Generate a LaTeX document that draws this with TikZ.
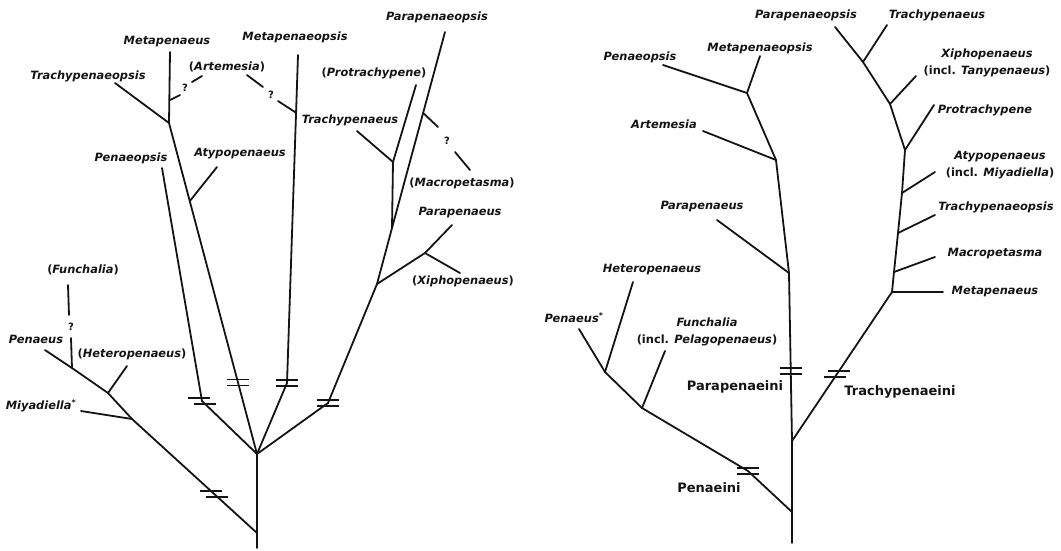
\documentclass[tikz,border=0pt]{standalone}
\usepackage{fontspec}
\setmainfont{DejaVu Sans}
\usepackage{xcolor}
\usepackage{tikz}
\usetikzlibrary{calc}
\definecolor{encre}{HTML}{141414}
\tikzset{
  branche/.style={line width=1.8pt, color=encre, line cap=round},
  trait/.style={line width=1.2pt, color=encre},
  genre/.style={font=\fontsize{11.4}{16.5}\selectfont\bfseries\itshape,
    text=encre, inner sep=0pt, align=center},
  tribu/.style={font=\fontsize{13}{15}\selectfont\bfseries, text=encre, inner sep=0pt},
  doute/.style={font=\fontsize{10}{12}\selectfont\bfseries, text=encre, inner sep=0pt},
}
\newcommand{\coupure}[2]{%
  \draw[trait] ([shift={({-1*(#2)},-3)}]#1) +(-11,0) -- +(11,0);
  \draw[trait] ([shift={(#2,3)}]#1) +(-11,0) -- +(11,0);}
\newcommand{\parens}[1]{{\upshape(}#1{\upshape)}}
\newcommand{\incl}[1]{{\upshape(incl. }#1{\upshape)}}

\begin{document}
\begin{tikzpicture}[x=1pt, y=-1pt]
    \useasboundingbox (0,0) rectangle (1061,550);

    % arbre de gauche
    \coordinate (racG) at (257,548);
    \coordinate (nPenG) at (257,533);
    \coordinate (nPolyG) at (257,454);
    \coordinate (nMiyG) at (132,419);
    \coordinate (nHetG) at (108,393);
    \coordinate (nFunG) at (72,368);
    \coordinate (hPenG) at (214,494);
    \coordinate (tPenG) at (45,350);
    \coordinate (tMiyG) at (81,411);
    \coordinate (tHetG) at (127,366);
    \coordinate (fun1) at (71,338);
    \coordinate (fun2) at (69,315);
    \coordinate (tFunG) at (68,285);

    \coordinate (bPeoG) at (202,401);
    \coordinate (tPeoG) at (162,168);

    \coordinate (nTpsG) at (169,123);
    \coordinate (hMetG) at ($(nPolyG)!0.215!(nTpsG)$);
    \coordinate (nAtyG) at ($(nPolyG)!0.764!(nTpsG)$);
    \coordinate (tAtyG) at (217,167);
    \coordinate (tTpsG) at (115,83);
    \coordinate (tMetG) at (170,52);
    \coordinate (nArtG1) at (170,100);
    \coordinate (art1) at (180,95);
    \coordinate (art2) at (192,82);
    \coordinate (tArtG1) at (202,76);
    \coordinate (tArtG2) at (247,75);
    \coordinate (art3) at (263,87);
    \coordinate (art4) at (278,101);

    \coordinate (bMpoG) at (287,383);
    \coordinate (tMpoG) at (298,55);
    \coordinate (nArtG2) at ($(bMpoG)!0.824!(tMpoG)$);

    \coordinate (bPpoG) at (328,403);
    \coordinate (nXipG) at (377,284);
    \coordinate (nPPG) at (392,228);
    \coordinate (tPpoG) at (445,32);
    \coordinate (nMacG) at ($(nPPG)!0.587!(tPpoG)$);
    \coordinate (mac1) at (438,127);
    \coordinate (mac2) at (455,152);
    \coordinate (tMacG) at (470,170);
    \coordinate (nXPG) at (425,253);
    \coordinate (tParG) at (452,225);
    \coordinate (tXipG) at (460,273);
    \coordinate (nTraG) at (393,162);
    \coordinate (tProG) at (416,85);
    \coordinate (tTraG) at (357,131);

    \draw[branche] (racG) -- (nPenG) -- (nPolyG);
    \draw[branche] (nPenG) -- (nMiyG) -- (nHetG) -- (nFunG) -- (tPenG);
    \draw[branche] (nMiyG) -- (tMiyG);
    \draw[branche] (nHetG) -- (tHetG);
    \draw[branche] (nFunG) -- (fun1);
    \draw[branche] (fun2) -- (tFunG);
    \draw[branche] (nPolyG) -- (bPeoG) -- (tPeoG);
    \draw[branche] (nPolyG) -- (nTpsG) -- (tTpsG);
    \draw[branche] (nTpsG) -- (tMetG);
    \draw[branche] (nAtyG) -- (tAtyG);
    \draw[branche] (nArtG1) -- (art1);
    \draw[branche] (art2) -- (tArtG1);
    \draw[branche] (tArtG2) -- (art3);
    \draw[branche] (art4) -- (nArtG2);
    \draw[branche] (nPolyG) -- (bMpoG) -- (tMpoG);
    \draw[branche] (nPolyG) -- (bPpoG) -- (nXipG) -- (nPPG) -- (tPpoG);
    \draw[branche] (nXipG) -- (nXPG) -- (tParG);
    \draw[branche] (nXPG) -- (tXipG);
    \draw[branche] (nPPG) -- (nTraG) -- (tProG);
    \draw[branche] (nTraG) -- (tTraG);
    \draw[branche] (nMacG) -- (mac1);
    \draw[branche] (mac2) -- (tMacG);

    \coupure{hPenG}{3}
    \coupure{bPeoG}{3}
    \coupure{hMetG}{0}
    \coupure{bMpoG}{0}
    \coupure{bPpoG}{0}

    \node[doute] (q1) at (71,327) {?};
    \node[doute] (q2) at (185,88) {?};
    \node[doute] (q3) at (271,95) {?};
    \node[doute] (q4) at (447,141) {?};

    \node[genre] (PenaeusG) at (36,339) {Penaeus};
    \node[genre] (FunchaliaG) at (83,270) {\parens{Funchalia}};
    \node[genre] (HeteroG) at (132,354) {\parens{Heteropenaeus}};
    \node[genre] (MiyadiellaG) at (41,406) {Miyadiella\textsuperscript{*}};
    \node[genre] (PenaeopsisG) at (131,158) {Penaeopsis};
    \node[genre] (AtypoG) at (240,154) {Atypopenaeus};
    \node[genre] (TrachypsG) at (88,76) {Trachypenaeopsis};
    \node[genre] (MetapenG) at (167,42) {Metapenaeus};
    \node[genre] (ArtemesiaG) at (227,67) {\parens{Artemesia}};
    \node[genre] (MetapsG) at (295,37) {Metapenaeopsis};
    \node[genre] (ParapsG) at (437,17) {Parapenaeopsis};
    \node[genre] (ProtraG) at (374,73) {\parens{Protrachypene}};
    \node[genre] (TrachyG) at (350,120) {Trachypenaeus};
    \node[genre] (MacroG) at (462,183) {\parens{Macropetasma}};
    \node[genre] (ParapenG) at (460,213) {Parapenaeus};
    \node[genre] (XiphoG) at (463,281) {\parens{Xiphopenaeus}};

    % arbre de droite
    \coordinate (racD) at (792,543);
    \coordinate (nPenD) at (792,512);
    \coordinate (nTrD) at (792,441);
    \coordinate (nPpD) at (789,273);
    \coordinate (hPpD) at ($(nTrD)!0.417!(nPpD)$);
    \coordinate (nArtD) at (776,160);
    \coordinate (nPeoD) at (747,93);
    \coordinate (tPeoD) at (663,65);
    \coordinate (tMpoD) at (760,56);
    \coordinate (tArtD) at (703,131);
    \coordinate (tParD) at (717,220);

    \coordinate (hPenD) at (748,471);
    \coordinate (nFunD) at (642,408);
    \coordinate (nHetD) at (605,372);
    \coordinate (tPenD) at (579,329);
    \coordinate (tHetD) at (633,282);
    \coordinate (tFunD) at (665,351);

    \coordinate (nMetD) at (892,292);
    \coordinate (hTrD) at ($(nTrD)!0.45!(nMetD)$);
    \coordinate (tMetD) at (943,292);
    \coordinate (nMacD) at (894,272);
    \coordinate (nTpsD) at (898,233);
    \coordinate (nAtyD) at (902,193);
    \coordinate (nProD) at (905,150);
    \coordinate (nXipD) at (890,104);
    \coordinate (nTraD) at (863,62);
    \coordinate (tPpoD) at (835,27);
    \coordinate (tMacD) at (935,257);
    \coordinate (tTpsD) at (935,215);
    \coordinate (tAtyD) at (935,172);
    \coordinate (tProD) at (934,105);
    \coordinate (tXipD) at (916,76);
    \coordinate (tTraD) at (887,25);

    \draw[branche] (racD) -- (nPenD) -- (nTrD) -- (nPpD) -- (nArtD) -- (nPeoD) -- (tPeoD);
    \draw[branche] (nPeoD) -- (tMpoD);
    \draw[branche] (nArtD) -- (tArtD);
    \draw[branche] (nPpD) -- (tParD);
    \draw[branche] (nPenD) -- (hPenD) -- (nFunD) -- (nHetD) -- (tPenD);
    \draw[branche] (nHetD) -- (tHetD);
    \draw[branche] (nFunD) -- (tFunD);
    \draw[branche] (nTrD) -- (nMetD) -- (tMetD);
    \draw[branche] (nMetD) -- (nMacD) -- (nTpsD) -- (nAtyD) -- (nProD) -- (nXipD) -- (nTraD) -- (tPpoD);
    \draw[branche] (nMacD) -- (tMacD);
    \draw[branche] (nTpsD) -- (tTpsD);
    \draw[branche] (nAtyD) -- (tAtyD);
    \draw[branche] (nProD) -- (tProD);
    \draw[branche] (nXipD) -- (tXipD);
    \draw[branche] (nTraD) -- (tTraD);

    \coupure{hPpD}{0}
    \coupure{hPenD}{0}
    \coupure{hTrD}{-2}

    \node[genre] (PenaeopsisD) at (640,57) {Penaeopsis};
    \node[genre] (MetapsD) at (760,48) {Metapenaeopsis};
    \node[genre] (ArtemesiaD) at (664,124) {Artemesia};
    \node[genre] (ParapenD) at (702,207) {Parapenaeus};
    \node[genre] (HeteroD) at (652,270) {Heteropenaeus};
    \node[genre] (PenaeusD) at (574,318) {Penaeus\textsuperscript{*}};
    \node[genre] (FunchaliaD) at (707,332) {Funchalia\\\incl{Pelagopenaeus}};
    \node[genre] (ParapsD) at (806,15) {Parapenaeopsis};
    \node[genre] (TrachyD) at (937,15) {Trachypenaeus};
    \node[genre] (XiphoD) at (987,63) {Xiphopenaeus\\\incl{Tanypenaeus}};
    \node[genre] (ProtraD) at (985,110) {Protrachypene};
    \node[genre] (AtypoD) at (1000,165) {Atypopenaeus\\\incl{Miyadiella}};
    \node[genre] (TrachypsD) at (996,207) {Trachypenaeopsis};
    \node[genre] (MacroD) at (995,254) {Macropetasma};
    \node[genre] (MetapenD) at (995,292) {Metapenaeus};

    \node[tribu] (Parapenaeini) at (735,387) {Parapenaeini};
    \node[tribu] (Penaeini) at (709,488) {Penaeini};
    \node[tribu] (Trachypenaeini) at (900,392) {Trachypenaeini};
  \end{tikzpicture}
\end{document}
